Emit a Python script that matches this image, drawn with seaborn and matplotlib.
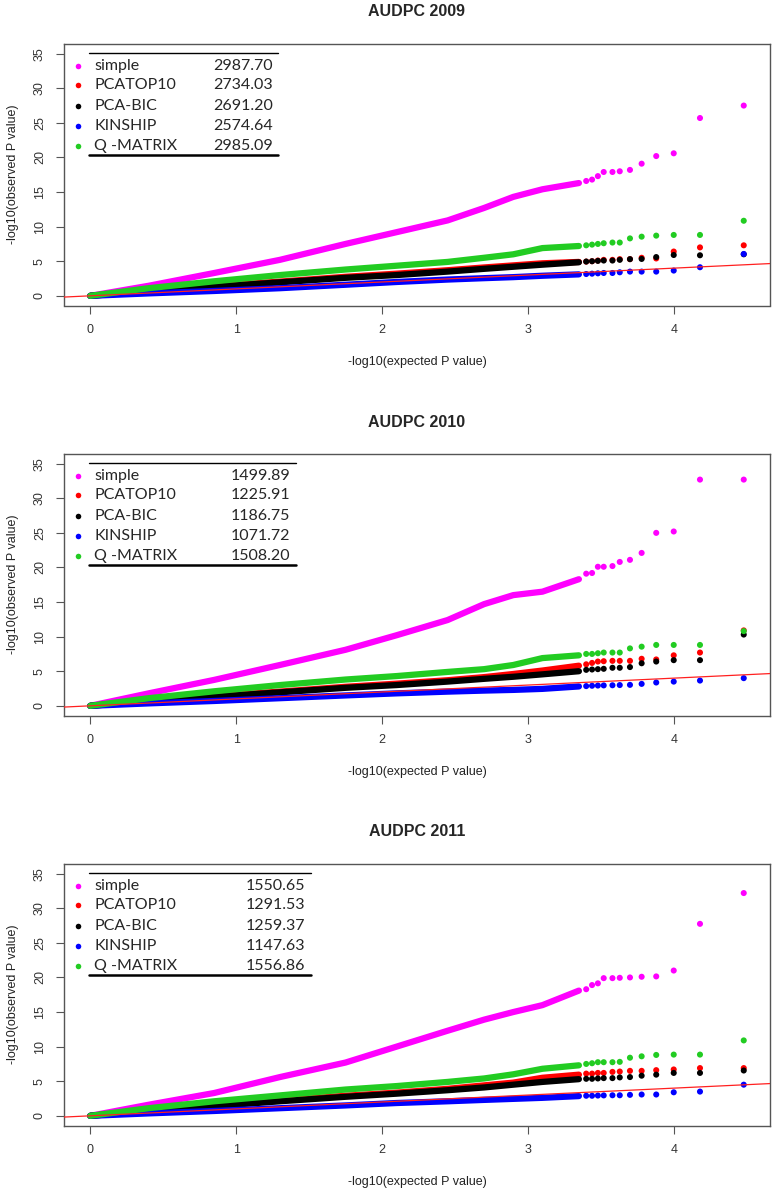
import pandas as pd
import matplotlib
matplotlib.use('Agg')
import matplotlib.pyplot as plt
import seaborn as sns

# 모델 이름, 색
methods = ['simple', 'PCATOP10', 'PCA-BIC', 'KINSHIP', 'Q -MATRIX']
colors = ['#ff00ff', '#ff0000', '#000000', '#0000ff', '#22cc22']
years = ['2009', '2010', '2011']

# 범례 옆 숫자
stat_2009 = [2987.70, 2734.03, 2691.20, 2574.64, 2985.09]
stat_2010 = [1499.89, 1225.91, 1186.75, 1071.72, 1508.20]
stat_2011 = [1550.65, 1291.53, 1259.37, 1147.63, 1556.86]

# expected -log10(p) : 촘촘한 구간 / 끝쪽 점들
dense_x = [0.0, 0.4, 0.85, 1.3, 1.75, 2.1, 2.45, 2.7, 2.9, 3.1, 3.35]
tail_x = [4.48, 4.18, 4.00, 3.88, 3.78, 3.70, 3.63, 3.58, 3.52, 3.48, 3.44, 3.40]

# 2009 observed
d09_simple = [0, 1.45, 3.3, 5.2, 7.5, 9.2, 10.9, 12.7, 14.3, 15.4, 16.3]
d09_pcatop = [0, 0.7, 1.4, 2.05, 2.75, 3.2, 3.7, 4.1, 4.4, 4.7, 4.9]
d09_pcabic = [0, 0.65, 1.3, 1.95, 2.6, 3.0, 3.5, 3.9, 4.2, 4.5, 4.85]
d09_kinship = [0, 0.35, 0.7, 1.1, 1.6, 2.0, 2.35, 2.55, 2.7, 2.9, 3.1]
d09_qmatrix = [0, 1.1, 2.1, 3.0, 3.8, 4.35, 4.9, 5.5, 6.0, 6.9, 7.2]
t09_simple = [27.5, 25.7, 20.6, 20.2, 19.1, 18.2, 18.0, 17.9, 17.9, 17.3, 16.8, 16.6]
t09_pcatop = [7.3, 7.0, 6.4, 5.4, 5.5, 5.3, 5.3, 5.2, 5.2, 5.1, 5.0, 4.95]
t09_pcabic = [6.0, 5.86, 5.9, 5.6, 5.33, 5.3, 5.2, 5.1, 5.1, 5.05, 5.0, 4.95]
t09_kinship = [6.05, 4.13, 3.65, 3.5, 3.5, 3.5, 3.4, 3.3, 3.3, 3.25, 3.2, 3.15]
t09_qmatrix = [10.85, 8.8, 8.8, 8.7, 8.55, 8.3, 7.7, 7.7, 7.6, 7.5, 7.4, 7.3]

# 2010 observed
d10_simple = [0, 1.8, 3.75, 5.9, 8.1, 10.2, 12.4, 14.7, 16.0, 16.5, 18.3]
d10_pcatop = [0, 0.7, 1.4, 2.05, 2.75, 3.2, 3.7, 4.15, 4.6, 5.1, 5.8]
d10_pcabic = [0, 0.65, 1.3, 1.95, 2.6, 3.0, 3.5, 3.9, 4.2, 4.55, 5.0]
d10_kinship = [0, 0.35, 0.7, 1.1, 1.5, 1.8, 2.05, 2.2, 2.3, 2.45, 2.8]
d10_qmatrix = [0, 1.1, 2.1, 3.0, 3.8, 4.3, 4.9, 5.3, 5.9, 6.9, 7.3]
t10_simple = [32.7, 32.7, 25.2, 25.0, 22.1, 21.1, 20.8, 20.2, 20.1, 20.1, 19.2, 19.1]
t10_pcatop = [10.9, 7.7, 7.3, 6.7, 6.8, 6.5, 6.5, 6.5, 6.45, 6.4, 6.2, 6.0]
t10_pcabic = [10.3, 6.6, 6.6, 6.4, 6.15, 5.6, 5.5, 5.5, 5.35, 5.3, 5.25, 5.2]
t10_kinship = [4.0, 3.65, 3.5, 3.37, 3.17, 3.03, 3.0, 2.97, 2.95, 2.93, 2.9, 2.85]
t10_qmatrix = [10.8, 8.8, 8.8, 8.8, 8.55, 8.3, 7.7, 7.7, 7.7, 7.6, 7.5, 7.5]

# 2011 observed
d11_simple = [0, 1.6, 3.3, 5.6, 7.7, 10.0, 12.3, 13.9, 15.0, 16.0, 18.1]
d11_pcatop = [0, 0.75, 1.5, 2.2, 2.9, 3.35, 3.9, 4.4, 4.8, 5.5, 5.95]
d11_pcabic = [0, 0.7, 1.4, 2.1, 2.75, 3.2, 3.7, 4.1, 4.5, 4.9, 5.3]
d11_kinship = [0, 0.35, 0.7, 1.1, 1.5, 1.85, 2.1, 2.3, 2.45, 2.6, 2.85]
d11_qmatrix = [0, 1.1, 2.1, 2.95, 3.8, 4.3, 4.9, 5.4, 6.0, 6.8, 7.3]
t11_simple = [32.2, 27.75, 21.0, 20.15, 20.1, 20.0, 19.95, 19.9, 19.9, 19.15, 18.9, 18.3]
t11_pcatop = [6.9, 6.9, 6.7, 6.6, 6.5, 6.5, 6.4, 6.35, 6.2, 6.2, 6.1, 6.1]
t11_pcabic = [6.55, 6.2, 6.2, 5.95, 5.8, 5.6, 5.55, 5.45, 5.45, 5.4, 5.35, 5.35]
t11_kinship = [4.5, 3.5, 3.4, 3.08, 3.08, 3.03, 2.97, 2.97, 2.95, 2.93, 2.9, 2.9]
t11_qmatrix = [10.9, 8.85, 8.85, 8.8, 8.6, 8.4, 7.8, 7.75, 7.75, 7.75, 7.6, 7.5]

dense = {
    '2009': [d09_simple, d09_pcatop, d09_pcabic, d09_kinship, d09_qmatrix],
    '2010': [d10_simple, d10_pcatop, d10_pcabic, d10_kinship, d10_qmatrix],
    '2011': [d11_simple, d11_pcatop, d11_pcabic, d11_kinship, d11_qmatrix],
}
tail = {
    '2009': [t09_simple, t09_pcatop, t09_pcabic, t09_kinship, t09_qmatrix],
    '2010': [t10_simple, t10_pcatop, t10_pcabic, t10_kinship, t10_qmatrix],
    '2011': [t11_simple, t11_pcatop, t11_pcabic, t11_kinship, t11_qmatrix],
}
stats = {'2009': stat_2009, '2010': stat_2010, '2011': stat_2011}

# long format 데이터프레임
rows = []
for yr in years:
    for m, ys in zip(methods, dense[yr]):
        for x, y in zip(dense_x, ys):
            rows.append((yr, m, 'dense', x, y))
    for m, ys in zip(methods, tail[yr]):
        for x, y in zip(tail_x, ys):
            rows.append((yr, m, 'tail', x, y))
df = pd.DataFrame(rows, columns=['year', 'method', 'part', 'expected', 'observed'])

sns.set_theme(style='ticks')
plt.rcParams['font.family'] = ['Liberation Sans', 'DejaVu Sans']
pal = dict(zip(methods, colors))

W, H = 776, 1196
BOX_W, BOX_H = 706, 261.5
fig = plt.figure(figsize=(W / 100, H / 100), dpi=100)

line_end = [278, 296, 311]
num_right = [273, 290, 305]
row_off = [22, 41, 62, 82, 102]

for k, yr in enumerate(years):
    top = 44 + 410 * k
    ax = fig.add_axes([64 / W, 1 - (top + BOX_H) / H, BOX_W / W, BOX_H / H])
    sub = df[df.year == yr]

    sns.lineplot(data=sub[sub.part == 'dense'], x='expected', y='observed',
                 hue='method', hue_order=methods, palette=pal, lw=4.5,
                 estimator=None, sort=False, legend=False,
                 solid_capstyle='round', ax=ax)
    sns.scatterplot(data=sub[sub.part == 'tail'], x='expected', y='observed',
                    hue='method', hue_order=methods, palette=pal, s=19,
                    linewidth=0, legend=False, ax=ax)
    ax.axline((0, 0), slope=1, color='#ff2020', lw=0.9, zorder=5)

    ax.set_xlim(-0.18, 4.66)
    ax.set_ylim(-1.4, 36.4)
    ax.set_xticks([0, 1, 2, 3, 4])
    ax.set_yticks([0, 5, 10, 15, 20, 25, 30, 35])
    ax.tick_params(direction='out', length=6, width=0.8, color='#555555',
                   pad=7, labelsize=9, labelcolor='#333333')
    for lab in ax.get_yticklabels():
        lab.set_rotation(90)
        lab.set_va('center')
    for sp in ax.spines.values():
        sp.set_color('#555555')
        sp.set_linewidth(1.0)

    ax.set_xlabel('-log10(expected P value)', fontsize=9, color='#222222')
    ax.xaxis.set_label_coords(0.5, -56.5 / BOX_H)
    ax.xaxis.label.set_va('center')
    ax.set_ylabel('-log10(observed P value)', fontsize=9, color='#222222')
    ax.yaxis.set_label_coords(-51 / BOX_W, 0.5)
    ax.yaxis.label.set_va('center')

    ax.text(0.5, 1 + 32 / BOX_H, f'AUDPC {yr}', transform=ax.transAxes,
            ha='center', va='center', fontsize=11.5, fontweight='bold')

    # 범례 (표 모양)
    for i, m in enumerate(methods):
        yf = 1 - row_off[i] / BOX_H
        ax.scatter([14 / BOX_W], [yf], transform=ax.transAxes, s=16,
                   color=colors[i], lw=0, zorder=6)
        ax.text(30 / BOX_W, yf, m, transform=ax.transAxes, va='center',
                fontsize=11.5, family=['Lato', 'DejaVu Sans'])
        ax.text((num_right[k] - 64) / BOX_W, yf, f'{stats[yr][i]:.2f}',
                transform=ax.transAxes, va='center', ha='right',
                fontsize=11.5, family=['Lato', 'DejaVu Sans'])
    x0, x1 = 25 / BOX_W, (line_end[k] - 64) / BOX_W
    ax.plot([x0, x1], [1 - 9 / BOX_H] * 2, transform=ax.transAxes,
            color='black', lw=1.0)
    ax.plot([x0, x1], [1 - 110.5 / BOX_H] * 2, transform=ax.transAxes,
            color='black', lw=1.8)
    ax.set_xlim(-0.18, 4.66)
    ax.set_ylim(-1.4, 36.4)

fig.savefig('out.png', dpi=100)
